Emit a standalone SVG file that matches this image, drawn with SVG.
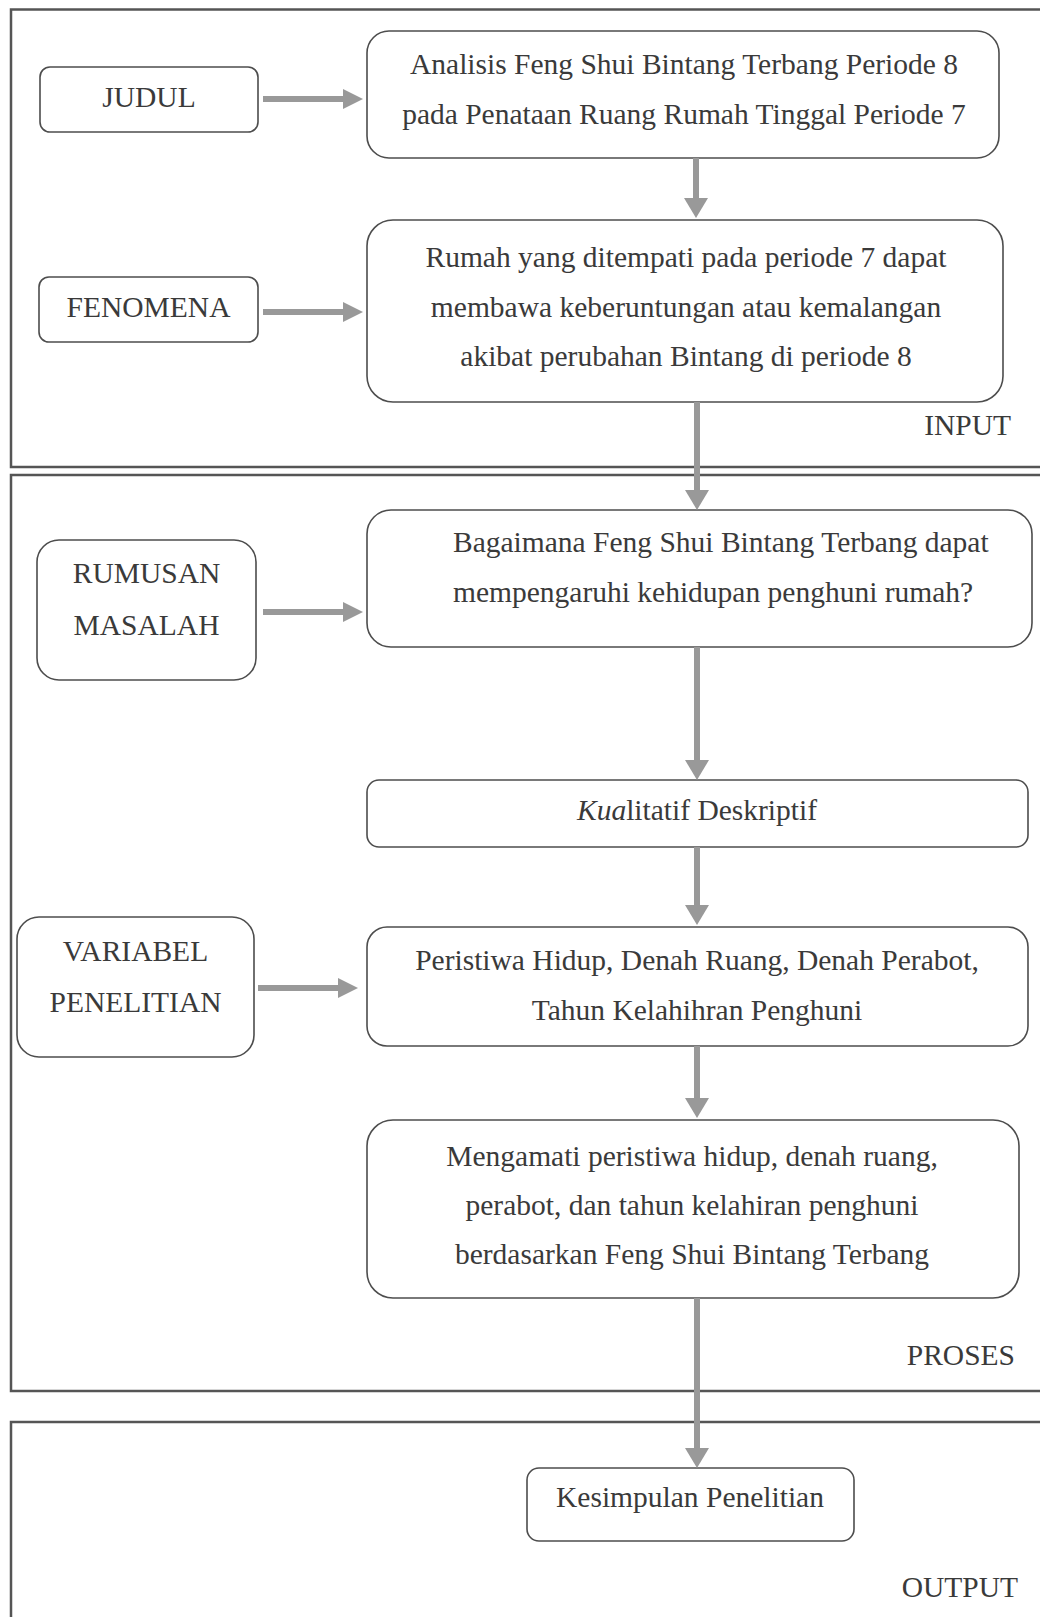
<svg xmlns="http://www.w3.org/2000/svg" width="1040" height="1617" viewBox="0 0 1040 1617">
<defs>
<style>
.frame{fill:none;stroke:#555;stroke-width:2.5}
.box{fill:#fff;stroke:#4d4d4d;stroke-width:1.6}
.t{font-family:"Liberation Serif","Times New Roman",serif;font-size:29.5px;fill:#3a3a3a}
.c{text-anchor:middle}
.e{text-anchor:end}
.arr{stroke:#999;stroke-width:6;fill:none}
</style>
<marker id="ahv" markerWidth="20" markerHeight="24" refX="0" refY="12" orient="auto" markerUnits="userSpaceOnUse"><path d="M0,0 L20,12 L0,24 Z" fill="#999"/></marker>
<marker id="ahh" markerWidth="20" markerHeight="20" refX="0" refY="10" orient="auto" markerUnits="userSpaceOnUse"><path d="M0,0 L20,10 L0,20 Z" fill="#999"/></marker>
</defs>
<rect width="1040" height="1617" fill="#fff"/>
<g id="frames">
<rect class="frame" x="11" y="9.5" width="1040" height="457.5"/>
<rect class="frame" x="11" y="475" width="1040" height="916"/>
<rect class="frame" x="11" y="1422" width="1040" height="220"/>
<text class="t e" x="1011" y="435">INPUT</text>
<text class="t e" x="1015" y="1365">PROSES</text>
<text class="t e" x="1018" y="1597">OUTPUT</text>
</g>
<g id="judul"><rect class="box" x="40" y="67" width="218" height="65" rx="10"/><text class="t c" x="149" y="107">JUDUL</text></g>
<g id="fenomena"><rect class="box" x="39" y="277" width="219" height="65" rx="10"/><text class="t c" x="148.5" y="317">FENOMENA</text></g>
<g id="rumusan"><rect class="box" x="37" y="540" width="219" height="140" rx="22"/><text class="t c" x="146.5" y="583">RUMUSAN</text><text class="t c" x="146.5" y="635">MASALAH</text></g>
<g id="variabel"><rect class="box" x="17" y="917" width="237" height="140" rx="22"/><text class="t c" x="135.5" y="961">VARIABEL</text><text class="t c" x="135.5" y="1012">PENELITIAN</text></g>
<g id="title"><rect class="box" x="367" y="31" width="632" height="127" rx="22"/><text class="t c" x="684" y="74">Analisis Feng Shui Bintang Terbang Periode 8</text><text class="t c" x="684" y="124">pada Penataan Ruang Rumah Tinggal Periode 7</text></g>
<g id="rumah"><rect class="box" x="367" y="220" width="636" height="182" rx="26"/><text class="t c" x="686" y="267">Rumah yang ditempati pada periode 7 dapat</text><text class="t c" x="686" y="317">membawa keberuntungan atau kemalangan</text><text class="t c" x="686" y="366">akibat perubahan Bintang di periode 8</text></g>
<g id="bagaimana"><rect class="box" x="367" y="510" width="665" height="137" rx="24"/><text class="t" x="453" y="552">Bagaimana Feng Shui Bintang Terbang dapat</text><text class="t" x="453" y="602">mempengaruhi kehidupan penghuni rumah?</text></g>
<g id="kualitatif"><rect class="box" x="367" y="780" width="661" height="67" rx="12"/><text class="t c" x="697" y="820"><tspan font-style="italic">Kua</tspan>litatif Deskriptif</text></g>
<g id="peristiwa"><rect class="box" x="367" y="927" width="661" height="119" rx="20"/><text class="t c" x="697" y="970">Peristiwa Hidup, Denah Ruang, Denah Perabot,</text><text class="t c" x="697" y="1020">Tahun Kelahihran Penghuni</text></g>
<g id="mengamati"><rect class="box" x="367" y="1120" width="652" height="178" rx="26"/><text class="t c" x="692" y="1166">Mengamati peristiwa hidup, denah ruang,</text><text class="t c" x="692" y="1215">perabot, dan tahun kelahiran penghuni</text><text class="t c" x="692" y="1264">berdasarkan Feng Shui Bintang Terbang</text></g>
<g id="kesimpulan"><rect class="box" x="527" y="1468" width="327" height="73" rx="12"/><text class="t c" x="690" y="1507">Kesimpulan Penelitian</text></g>
<g id="connectors">
<path class="arr" d="M263,99 H343" marker-end="url(#ahh)"/>
<path class="arr" d="M263,312 H343" marker-end="url(#ahh)"/>
<path class="arr" d="M263,612 H343" marker-end="url(#ahh)"/>
<path class="arr" d="M258,988 H338" marker-end="url(#ahh)"/>
<path class="arr" d="M696,158 V198" marker-end="url(#ahv)"/>
<path class="arr" d="M697,402 V490" marker-end="url(#ahv)"/>
<path class="arr" d="M697,647 V760" marker-end="url(#ahv)"/>
<path class="arr" d="M697,847 V905" marker-end="url(#ahv)"/>
<path class="arr" d="M697,1046 V1098" marker-end="url(#ahv)"/>
<path class="arr" d="M697,1298 V1448" marker-end="url(#ahv)"/>
</g>
</svg>
